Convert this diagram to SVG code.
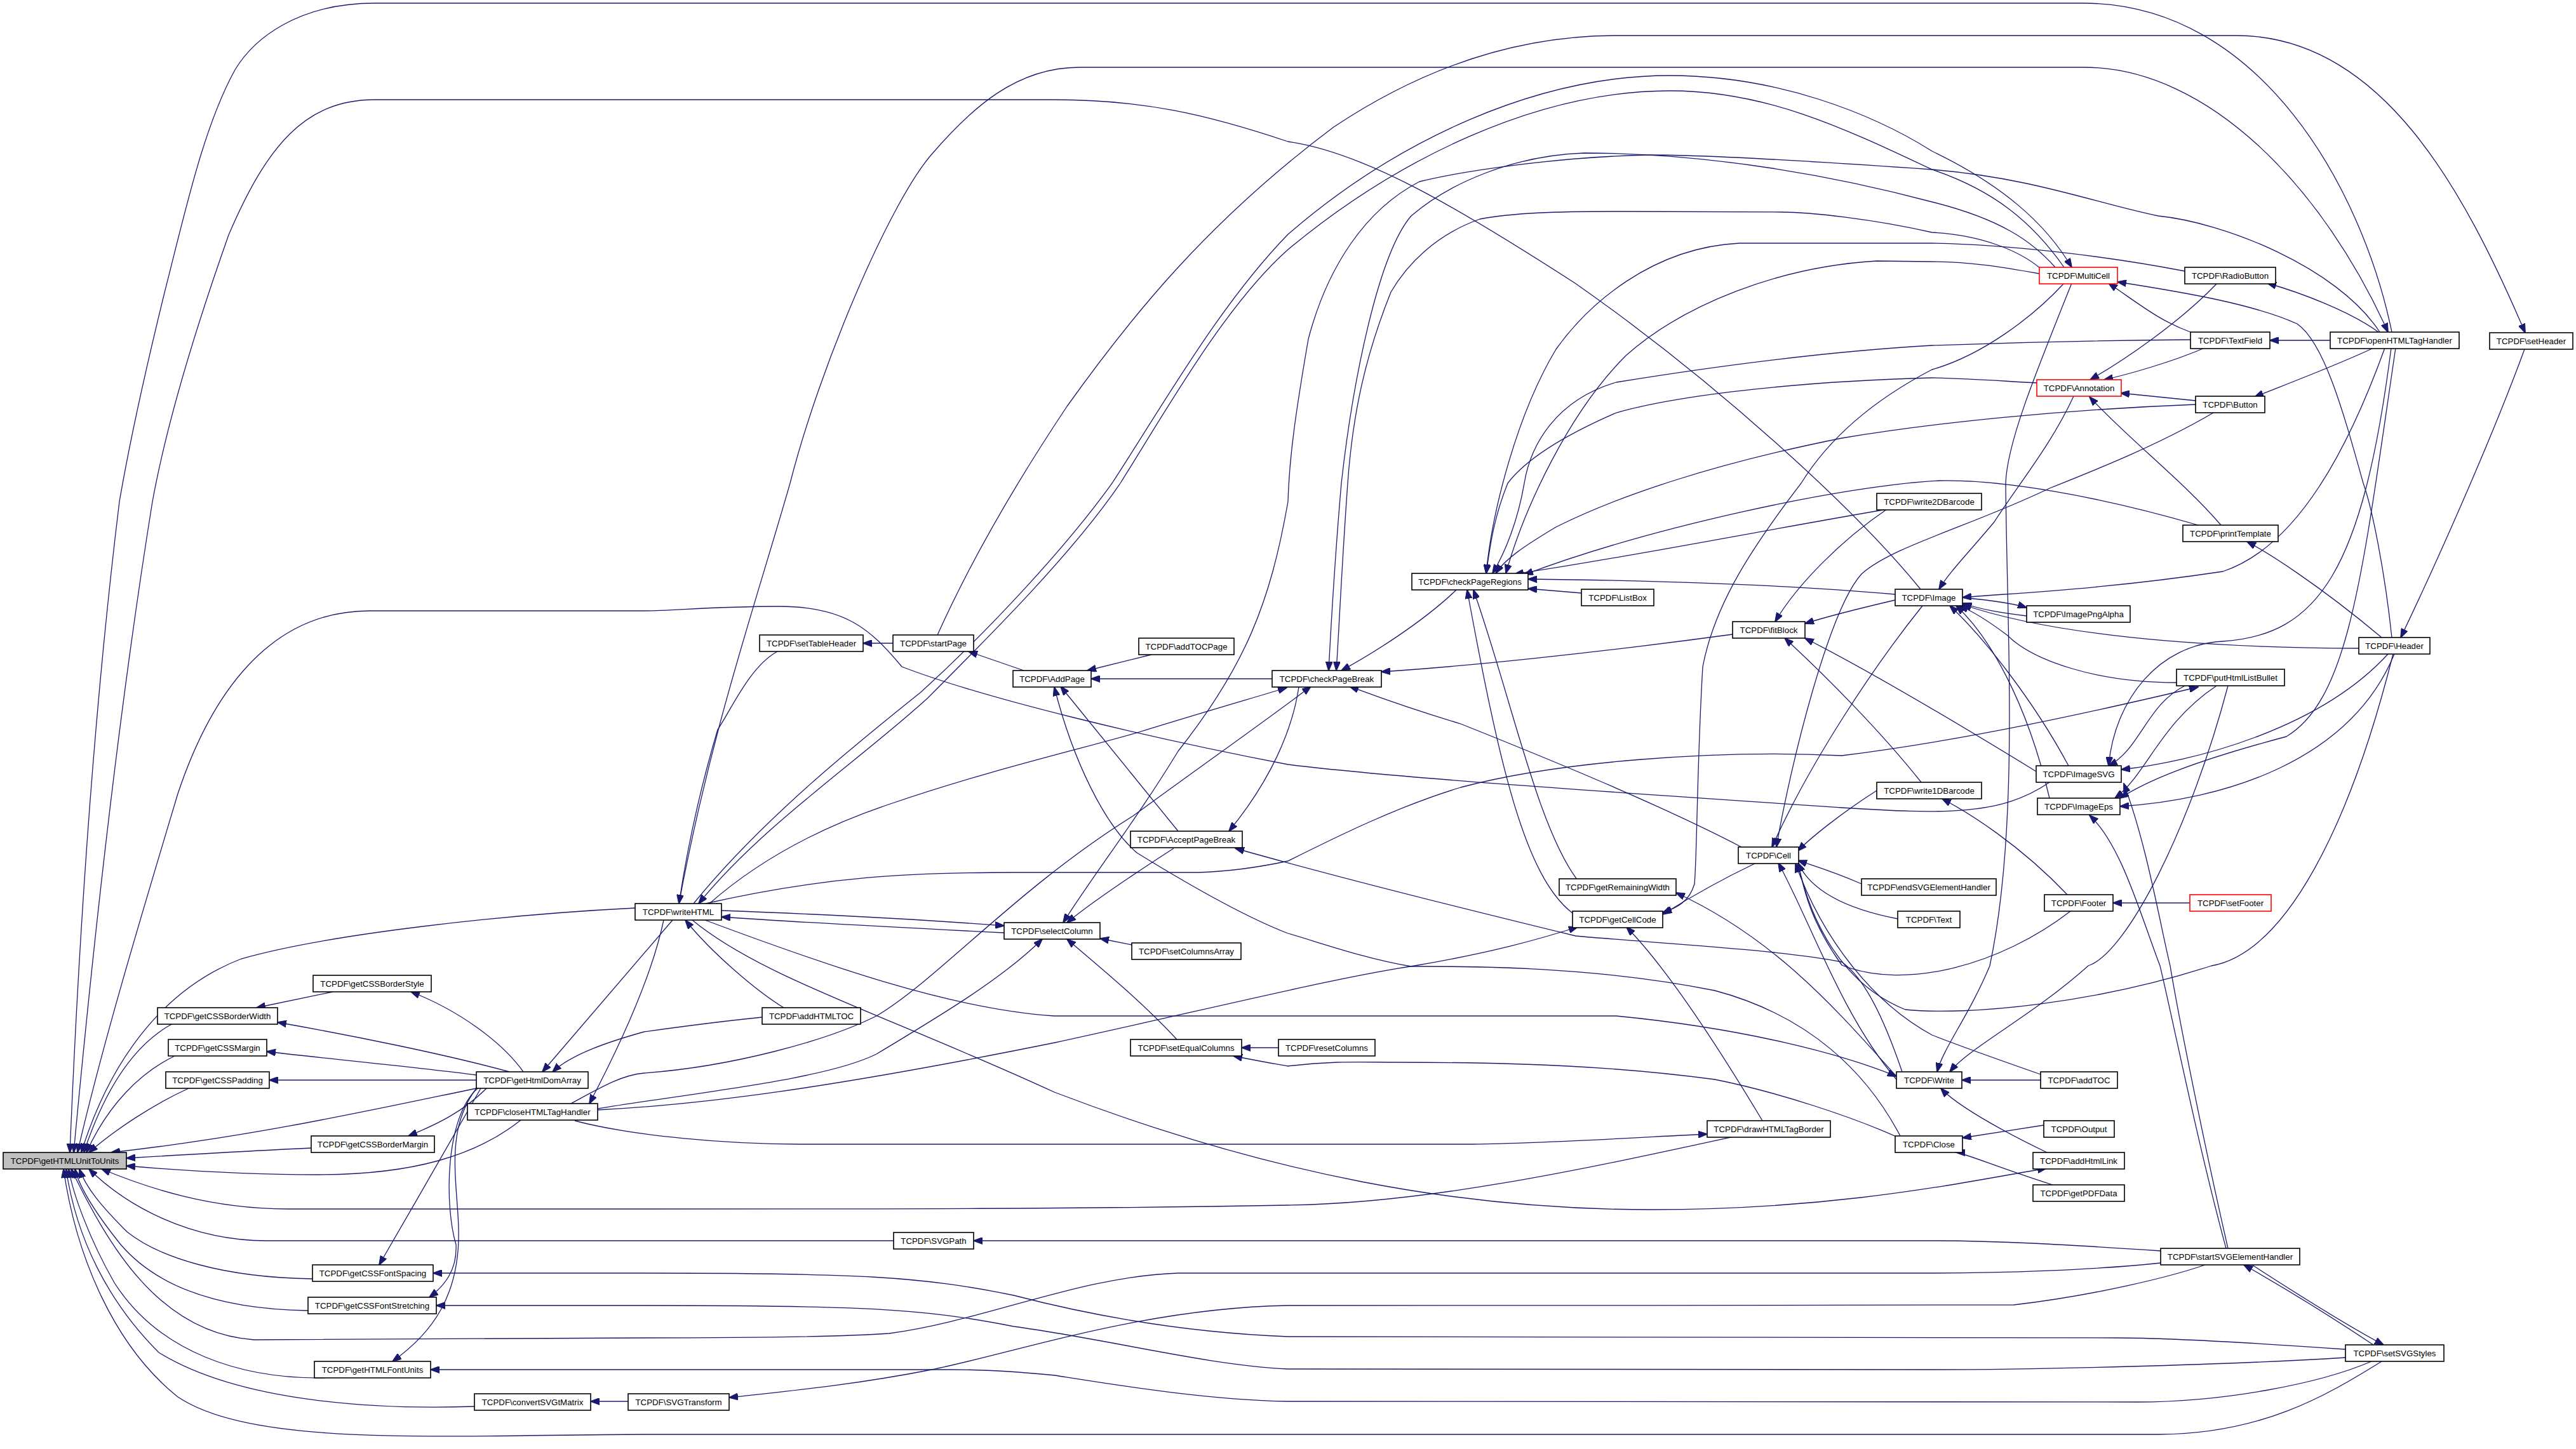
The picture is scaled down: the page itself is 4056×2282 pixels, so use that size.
<svg xmlns="http://www.w3.org/2000/svg" width="4056" height="2282" viewBox="0 0 4056 2282">
<defs>
<marker id="ah" markerUnits="userSpaceOnUse" markerWidth="15" markerHeight="11" refX="14" refY="5.5" orient="auto">
<path d="M0,0 L15,5.5 L0,11 z" fill="#191970" stroke="#191970" stroke-width="1"/>
</marker>
<style>
.n rect{fill:#ffffff;stroke:#000000;stroke-width:1.6}
.n.r rect{stroke:#ff0000}
.n.g rect{fill:#bfbfbf}
.n text{font-family:"Liberation Sans",Arial,sans-serif;font-size:13.3px;fill:#000000;text-anchor:middle}
#edges path{fill:none;stroke:#191970;stroke-width:1.3;marker-end:url(#ah)}
</style>
</defs>
<rect width="4056" height="2282" fill="#ffffff"/>
<g id="edges">
<path d="M3766,523 C3720,300 3560,5 3280,5 L590,5 C470,5 400,60 370,110 C320,200 290,340 259,461 C220,620 200,720 188,790 C150,1100 125,1450 110,1815"/>
<path d="M3024,928 C2920,800 2700,600 2480,446 C2300,330 2150,240 2028,223 C1900,180 1800,157 1660,157 L590,157 C480,157 420,230 360,370 C300,540 260,680 240,790 C190,1100 150,1450 116,1815"/>
<path d="M3227,1232 C3150,1285 3060,1282 2900,1272 C2500,1245 2200,1225 2028,1204 C1800,1160 1550,1100 1420,1050 C1370,990 1330,955 1227,955 C1120,955 1060,962 1014,962 L582,962 C420,962 330,1100 280,1250 C220,1450 160,1650 122,1815"/>
<path d="M1000,1430 C800,1440 520,1470 380,1510 C250,1560 170,1680 128,1815"/>
<path d="M272,1612 C220,1640 170,1700 132,1815"/>
<path d="M275,1663 C220,1690 170,1740 136,1815"/>
<path d="M297,1714 C240,1740 180,1780 140,1815"/>
<path d="M750,1714 C600,1745 400,1790 175,1815"/>
<path d="M490,1808 C400,1812 300,1818 199,1824"/>
<path d="M820,1764 C750,1820 650,1850 500,1850 C380,1850 280,1843 199,1836"/>
<path d="M2730,1790 C2500,1840 2250,1895 2028,1898 C1700,1904 1400,1904 1014,1904 L453,1904 C330,1904 230,1870 160,1841"/>
<path d="M1407,1954 L420,1954 C300,1954 200,1900 140,1841"/>
<path d="M492,2014 C350,2012 250,1980 200,1940 C160,1900 135,1870 125,1841"/>
<path d="M485,2064 C350,2062 250,2030 190,1960 C150,1910 125,1870 118,1841"/>
<path d="M3402,1989 C3300,2000 3150,2005 3042,2005 L1855,2005 C1700,2010 1550,2080 1400,2100 C1300,2107 1100,2107 1014,2107 L400,2110 C250,2100 170,1960 112,1841"/>
<path d="M511,2170 C380,2172 250,2130 180,2020 C140,1950 115,1880 108,1841"/>
<path d="M747,2215 C600,2220 380,2210 250,2130 C170,2050 120,1950 104,1841"/>
<path d="M3750,2144 C3660,2200 3560,2258 3400,2259 L1014,2259 C700,2260 400,2280 280,2200 C180,2120 120,1980 100,1841"/>
<path d="M824,1688 C790,1640 720,1590 647,1562"/>
<path d="M802,1688 C700,1660 550,1630 437,1610"/>
<path d="M750,1693 C650,1680 520,1668 420,1656"/>
<path d="M750,1701 L424,1701"/>
<path d="M766,1714 C730,1750 690,1770 643,1789"/>
<path d="M757,1714 C720,1780 650,1900 597,1992"/>
<path d="M752,1714 C700,1760 700,1900 718,1960 C720,2000 700,2025 676,2043"/>
<path d="M750,1714 C700,1780 720,1860 722,1934 C725,2040 680,2100 618,2144"/>
<path d="M524,1562 L404,1587"/>
<path d="M1059,1449 L854,1688"/>
<path d="M1045,1449 C1030,1520 990,1620 928,1738"/>
<path d="M1200,1602 C1120,1610 1050,1620 1014,1625 C960,1640 900,1660 870,1688"/>
<path d="M1234,1587 C1190,1560 1120,1500 1079,1449"/>
<path d="M899,1738 C950,1710 980,1693 1014,1690 C1150,1680 1300,1640 1380,1600 C1480,1540 1600,1400 1784,1285 C1900,1200 2000,1130 2064,1081"/>
<path d="M941,1746 C1100,1720 1300,1700 1380,1660 C1480,1600 1580,1540 1641,1479"/>
<path d="M941,1748 C1100,1740 1300,1715 1661,1642 C1900,1590 2100,1540 2227,1521 C2350,1500 2420,1480 2484,1460"/>
<path d="M905,1765 C1000,1790 1150,1802 1260,1802 L2319,1802 C2450,1800 2600,1790 2688,1786"/>
<path d="M989,2207 L930,2207"/>
<path d="M3472,1992 C3420,2010 3300,2040 3171,2055 C3000,2056 2200,2056 2028,2056 C1800,2060 1600,2130 1467,2157 C1350,2180 1250,2190 1148,2201"/>
<path d="M3402,1970 C3250,1960 3150,1954 3042,1954 L1533,1954"/>
<path d="M3693,2125 C3550,2115 3400,2107 3333,2107 L2028,2105 C1900,2100 1750,2080 1596,2040 C1450,2010 1350,2005 1014,2005 L682,2005"/>
<path d="M3693,2138 C3500,2150 3200,2157 3042,2157 L2028,2156 C1900,2150 1750,2110 1596,2089 C1450,2060 1350,2056 1014,2056 L687,2056"/>
<path d="M3734,2144 C3650,2180 3500,2208 3365,2208 L2028,2207 C1900,2205 1750,2180 1661,2166 C1600,2160 1550,2157 1499,2157 L678,2157"/>
<path d="M3737,2118 C3680,2080 3600,2030 3533,1992"/>
<path d="M3546,1992 C3620,2040 3700,2090 3753,2118"/>
<path d="M1224,1026 C1180,1050 1150,1120 1130,1149 C1100,1250 1080,1350 1069,1423"/>
<path d="M1406,1013 L1359,1013"/>
<path d="M1612,1056 L1525,1026"/>
<path d="M1813,1031 L1712,1056"/>
<path d="M2003,1069 L1718,1069"/>
<path d="M1855,1309 L1670,1081"/>
<path d="M2992,1789 C2940,1690 2850,1600 2700,1560 C2500,1520 2300,1522 2222,1522 C2150,1510 2080,1485 2028,1470 C1950,1440 1850,1380 1790,1343 C1740,1300 1690,1200 1660,1082"/>
<path d="M1136,1434 C1300,1440 1450,1448 1581,1458"/>
<path d="M1581,1469 C1400,1460 1250,1452 1136,1444"/>
<path d="M1782,1488 L1732,1478"/>
<path d="M1848,1336 C1780,1380 1720,1420 1680,1453"/>
<path d="M3747,523 C3680,420 3500,350 3398,340 C3300,320 3200,280 3042,267 C2900,257 2700,244 2597,244 C2450,247 2300,270 2235,286 C2150,330 2090,420 2060,534 C2040,650 2030,720 2028,790 C2000,950 1960,1050 1855,1183 C1790,1290 1720,1380 1674,1453"/>
<path d="M3236,421 C3200,380 3150,345 3042,318 C2900,280 2700,241 2494,241 C2380,245 2280,290 2222,340 C2170,400 2130,600 2112,761 C2100,900 2095,1000 2092,1056"/>
<path d="M3213,423 C3180,395 3120,370 3042,366 C2950,345 2850,334 2804,334 L2545,333 C2450,333 2384,335 2330,345 C2260,370 2215,417 2190,460 C2150,560 2130,650 2122,761 C2112,900 2108,1000 2104,1056"/>
<path d="M1117,1423 C1200,1350 1300,1300 1402,1266 C1550,1215 1700,1180 1790,1154 C1900,1120 1970,1100 2026,1083"/>
<path d="M2045,1082 C2035,1150 2000,1230 1935,1309"/>
<path d="M2995,1688 C2965,1600 2935,1540 2900,1515 C2800,1495 2600,1485 2481,1474 C2300,1430 2100,1380 1945,1336"/>
<path d="M3249,447 C3200,500 3120,560 3042,582 C2950,630 2880,690 2836,761 C2760,860 2700,950 2681,1050 C2672,1200 2672,1350 2668,1392 C2660,1420 2640,1430 2618,1437"/>
<path d="M3213,1692 C3150,1670 3080,1645 3042,1630 C2950,1580 2870,1480 2827,1360"/>
<path d="M1853,1637 C1800,1580 1740,1530 1680,1479"/>
<path d="M2013,1650 L1955,1650"/>
<path d="M2990,1792 C2920,1760 2800,1720 2700,1700 C2550,1680 2400,1673 2200,1673 C2150,1673 2100,1670 2028,1679 C2000,1674 1970,1669 1942,1663"/>
<path d="M1476,1000 C1530,880 1600,760 1680,640 C1780,500 1900,350 2100,200 C2250,100 2400,56 2545,56 L3521,56 C3750,56 3880,300 3976,524"/>
<path d="M1069,1423 C1120,1150 1190,950 1244,761 C1290,580 1400,320 1467,243 C1530,170 1600,106 1700,106 L3281,106 C3480,106 3660,300 3760,523"/>
<path d="M1092,1423 C1200,1290 1350,1170 1450,1090 C1560,990 1680,860 1751,761 C1830,640 1920,480 2028,369 C2200,220 2420,119 2629,119 C2800,119 2950,180 3042,238 C3150,290 3220,350 3262,421"/>
<path d="M3250,421 C3200,350 3140,300 3042,267 C2900,200 2780,143 2629,143 C2420,143 2200,250 2028,393 C1930,480 1840,640 1764,761 C1690,870 1560,1000 1460,1100 C1350,1200 1200,1300 1100,1423"/>
<path d="M3449,523 C3400,505 3370,480 3320,446"/>
<path d="M3766,1004 C3755,900 3735,800 3721,761 C3690,650 3660,540 3617,510 C3550,480 3450,462 3334,444"/>
<path d="M3975,550 C3920,700 3830,900 3780,1004"/>
<path d="M3669,536 L3574,536"/>
<path d="M3745,523 C3700,490 3620,460 3570,446"/>
<path d="M3737,548 C3680,575 3600,605 3550,625"/>
<path d="M3491,446 C3430,510 3340,570 3291,598"/>
<path d="M3471,548 C3420,570 3350,590 3313,598"/>
<path d="M3457,631 L3339,619"/>
<path d="M3440,427 C3300,400 3150,385 3042,383 L2739,383 C2600,390 2500,480 2450,550 C2390,650 2350,800 2340,903"/>
<path d="M3211,431 C3150,420 3100,412 3038,412 L2955,411 C2800,420 2650,480 2560,560 C2470,650 2400,800 2371,903"/>
<path d="M3449,535 C3300,536 3150,540 3042,544 C2850,555 2650,585 2545,602 C2450,630 2410,700 2400,761 C2390,820 2370,870 2350,903"/>
<path d="M3207,603 C3150,600 3100,596 3042,595 C2850,600 2650,620 2545,650 C2430,700 2390,740 2374,761 C2350,820 2345,870 2340,903"/>
<path d="M3457,637 C3250,645 3050,665 2900,690 C2700,730 2550,780 2450,830 C2400,860 2370,880 2355,903"/>
<path d="M3461,827 C3300,780 3150,755 3053,757 C2900,765 2600,830 2400,905"/>
<path d="M2971,802 C2750,840 2550,880 2385,904"/>
<path d="M2490,934 L2406,927"/>
<path d="M2984,936 C2800,920 2600,914 2406,912"/>
<path d="M2293,929 C2240,980 2160,1030 2112,1056"/>
<path d="M2728,999 C2500,1030 2300,1050 2175,1058"/>
<path d="M2742,1334 C2600,1260 2400,1180 2300,1140 C2200,1110 2150,1090 2125,1081"/>
<path d="M2765,1359 C2700,1390 2650,1420 2618,1440"/>
<path d="M2775,1765 C2700,1640 2620,1520 2561,1460"/>
<path d="M2483,1385 C2420,1300 2380,1100 2320,929"/>
<path d="M2476,1438 C2400,1380 2360,1200 2310,929"/>
<path d="M2971,802 C2900,850 2830,920 2795,979"/>
<path d="M2984,945 C2920,960 2880,970 2842,982"/>
<path d="M3206,1215 C3100,1150 2950,1060 2842,1005"/>
<path d="M3025,1232 C2960,1150 2870,1060 2810,1005"/>
<path d="M3090,941 C3130,945 3170,950 3191,957"/>
<path d="M3191,970 C3150,965 3120,960 3090,950"/>
<path d="M3257,1206 C3200,1100 3120,1000 3070,954"/>
<path d="M3227,1257 C3190,1100 3130,1000 3080,954"/>
<path d="M3714,1021 C3400,1020 3200,990 3090,952"/>
<path d="M3427,1075 C3300,1075 3200,1040 3160,1000 C3120,970 3100,960 3085,954"/>
<path d="M3755,548 C3700,700 3620,860 3500,900 C3300,930 3150,935 3090,941"/>
<path d="M3750,1004 C3650,920 3570,870 3538,853"/>
<path d="M3760,1030 C3650,1150 3450,1200 3340,1212"/>
<path d="M3770,1030 C3700,1200 3500,1260 3338,1270"/>
<path d="M3765,548 C3720,900 3650,1000 3500,1010 C3400,1015 3330,1100 3320,1206"/>
<path d="M3772,548 C3720,900 3700,1100 3600,1160 C3450,1200 3380,1230 3338,1257"/>
<path d="M3440,1080 C3380,1110 3370,1180 3320,1206"/>
<path d="M3490,1080 C3400,1140 3380,1220 3330,1257"/>
<path d="M1111,1423 C1300,1380 1434,1374 1600,1374 L1887,1374 C1950,1372 2000,1362 2028,1356 C2100,1320 2200,1270 2300,1240 C2450,1200 2700,1180 2900,1190 C3100,1165 3300,1120 3461,1082"/>
<path d="M3508,1080 C3450,1300 3350,1500 3288,1521 C3200,1600 3100,1650 3070,1688"/>
<path d="M3262,446 C3200,600 3160,700 3158,761 C3160,1000 3180,1300 3133,1521 C3100,1600 3060,1650 3050,1688"/>
<path d="M3213,1701 L3089,1701"/>
<path d="M3223,1815 C3150,1780 3080,1740 3056,1714"/>
<path d="M1110,1449 C1300,1520 1500,1590 1660,1600 L2545,1600 C2750,1620 2900,1660 2986,1695"/>
<path d="M1090,1449 C1200,1540 1400,1600 1660,1720 C2000,1850 2300,1905 2600,1905 C2900,1905 3100,1860 3222,1840"/>
<path d="M2986,1700 C2900,1600 2850,1450 2800,1359"/>
<path d="M2986,1695 C2900,1600 2800,1480 2639,1406"/>
<path d="M2988,1447 C2900,1430 2850,1400 2831,1359"/>
<path d="M2931,1392 C2880,1370 2850,1362 2831,1355"/>
<path d="M2955,1245 C2900,1280 2850,1320 2831,1340"/>
<path d="M3255,1409 C3180,1330 3100,1280 3058,1258"/>
<path d="M3260,1435 C3150,1520 3000,1560 2900,1520 C2850,1450 2840,1400 2831,1359"/>
<path d="M3448,1422 L3327,1422"/>
<path d="M3218,1772 L3090,1792"/>
<path d="M3232,1866 C3150,1840 3090,1815 3080,1815"/>
<path d="M3768,1030 C3700,1300 3600,1500 3482,1521 C3300,1580 3100,1600 3000,1590 C2900,1550 2850,1450 2831,1359"/>
<path d="M3265,624 C3230,700 3180,760 3140,822 C3100,870 3070,900 3053,928"/>
<path d="M3497,827 C3440,760 3350,690 3290,625"/>
<path d="M3485,650 C3400,700 3300,740 3227,769 C3100,830 2980,860 2931,904 C2880,960 2820,1200 2797,1334"/>
<path d="M3027,954 C2950,1050 2850,1200 2790,1334"/>
<path d="M3508,1966 C3470,1800 3430,1600 3417,1521 C3400,1450 3380,1330 3344,1234"/>
<path d="M3505,1966 C3460,1800 3420,1600 3401,1521 C3370,1440 3340,1330 3290,1284"/>
</g>
<g id="n_GU" class="n g"><rect x="5" y="1815" width="194" height="26"/><text x="102" y="1832.5">TCPDF\getHTMLUnitToUnits</text></g>
<g id="n_cssBorderStyle" class="n"><rect x="493" y="1536" width="186" height="26"/><text x="586" y="1553.5">TCPDF\getCSSBorderStyle</text></g>
<g id="n_cssBorderWidth" class="n"><rect x="248" y="1587" width="189" height="26"/><text x="342.5" y="1604.5">TCPDF\getCSSBorderWidth</text></g>
<g id="n_cssMargin" class="n"><rect x="265" y="1637" width="155" height="26"/><text x="342.5" y="1654.5">TCPDF\getCSSMargin</text></g>
<g id="n_cssPadding" class="n"><rect x="261" y="1688" width="163" height="26"/><text x="342.5" y="1705.5">TCPDF\getCSSPadding</text></g>
<g id="n_htmlDom" class="n"><rect x="750" y="1688" width="176" height="26"/><text x="838" y="1705.5">TCPDF\getHtmlDomArray</text></g>
<g id="n_closeHTML" class="n"><rect x="736" y="1738" width="205" height="26"/><text x="838.5" y="1755.5">TCPDF\closeHTMLTagHandler</text></g>
<g id="n_cssBorderMargin" class="n"><rect x="490" y="1789" width="194" height="26"/><text x="587" y="1806.5">TCPDF\getCSSBorderMargin</text></g>
<g id="n_cssFontSpacing" class="n"><rect x="492" y="1992" width="190" height="26"/><text x="587" y="2009.5">TCPDF\getCSSFontSpacing</text></g>
<g id="n_cssFontStretching" class="n"><rect x="485" y="2043" width="202" height="26"/><text x="586" y="2060.5">TCPDF\getCSSFontStretching</text></g>
<g id="n_htmlFontUnits" class="n"><rect x="495" y="2144" width="183" height="26"/><text x="586.5" y="2161.5">TCPDF\getHTMLFontUnits</text></g>
<g id="n_convSVGtMatrix" class="n"><rect x="747" y="2195" width="183" height="26"/><text x="838.5" y="2212.5">TCPDF\convertSVGtMatrix</text></g>
<g id="n_writeHTML" class="n"><rect x="1000" y="1423" width="136" height="26"/><text x="1068" y="1440.5">TCPDF\writeHTML</text></g>
<g id="n_setTableHeader" class="n"><rect x="1196" y="1000" width="163" height="26"/><text x="1277.5" y="1017.5">TCPDF\setTableHeader</text></g>
<g id="n_startPage" class="n"><rect x="1406" y="1000" width="127" height="26"/><text x="1469.5" y="1017.5">TCPDF\startPage</text></g>
<g id="n_addTOCPage" class="n"><rect x="1793" y="1005" width="150" height="26"/><text x="1868" y="1022.5">TCPDF\addTOCPage</text></g>
<g id="n_AddPage" class="n"><rect x="1595" y="1056" width="123" height="26"/><text x="1656.5" y="1073.5">TCPDF\AddPage</text></g>
<g id="n_AcceptPageBreak" class="n"><rect x="1780" y="1309" width="176" height="26"/><text x="1868" y="1326.5">TCPDF\AcceptPageBreak</text></g>
<g id="n_selectColumn" class="n"><rect x="1581" y="1453" width="151" height="26"/><text x="1656.5" y="1470.5">TCPDF\selectColumn</text></g>
<g id="n_setColumnsArray" class="n"><rect x="1782" y="1485" width="172" height="26"/><text x="1868" y="1502.5">TCPDF\setColumnsArray</text></g>
<g id="n_addHTMLTOC" class="n"><rect x="1200" y="1587" width="155" height="26"/><text x="1277.5" y="1604.5">TCPDF\addHTMLTOC</text></g>
<g id="n_setEqualColumns" class="n"><rect x="1780" y="1637" width="175" height="26"/><text x="1867.5" y="1654.5">TCPDF\setEqualColumns</text></g>
<g id="n_resetColumns" class="n"><rect x="2013" y="1637" width="152" height="26"/><text x="2089" y="1654.5">TCPDF\resetColumns</text></g>
<g id="n_SVGPath" class="n"><rect x="1407" y="1941" width="126" height="26"/><text x="1470" y="1958.5">TCPDF\SVGPath</text></g>
<g id="n_SVGTransform" class="n"><rect x="989" y="2195" width="159" height="26"/><text x="1068.5" y="2212.5">TCPDF\SVGTransform</text></g>
<g id="n_checkPageBreak" class="n"><rect x="2003" y="1056" width="172" height="26"/><text x="2089" y="1073.5">TCPDF\checkPageBreak</text></g>
<g id="n_checkPageRegions" class="n"><rect x="2223" y="903" width="183" height="26"/><text x="2314.5" y="920.5">TCPDF\checkPageRegions</text></g>
<g id="n_ListBox" class="n"><rect x="2490" y="928" width="114" height="26"/><text x="2547" y="945.5">TCPDF\ListBox</text></g>
<g id="n_fitBlock" class="n"><rect x="2728" y="979" width="114" height="26"/><text x="2785" y="996.5">TCPDF\fitBlock</text></g>
<g id="n_Cell" class="n"><rect x="2737" y="1334" width="95" height="26"/><text x="2784.5" y="1351.5">TCPDF\Cell</text></g>
<g id="n_getRemainingWidth" class="n"><rect x="2455" y="1384" width="184" height="26"/><text x="2547" y="1401.5">TCPDF\getRemainingWidth</text></g>
<g id="n_getCellCode" class="n"><rect x="2476" y="1435" width="142" height="26"/><text x="2547" y="1452.5">TCPDF\getCellCode</text></g>
<g id="n_drawHTMLTagBorder" class="n"><rect x="2688" y="1765" width="194" height="26"/><text x="2785" y="1782.5">TCPDF\drawHTMLTagBorder</text></g>
<g id="n_write2DBarcode" class="n"><rect x="2955" y="777" width="165" height="26"/><text x="3037.5" y="794.5">TCPDF\write2DBarcode</text></g>
<g id="n_Image" class="n"><rect x="2984" y="928" width="106" height="26"/><text x="3037" y="945.5">TCPDF\Image</text></g>
<g id="n_write1DBarcode" class="n"><rect x="2955" y="1232" width="165" height="26"/><text x="3037.5" y="1249.5">TCPDF\write1DBarcode</text></g>
<g id="n_endSVGElementHandler" class="n"><rect x="2931" y="1384" width="212" height="26"/><text x="3037" y="1401.5">TCPDF\endSVGElementHandler</text></g>
<g id="n_Text" class="n"><rect x="2988" y="1435" width="98" height="26"/><text x="3037" y="1452.5">TCPDF\Text</text></g>
<g id="n_Write" class="n"><rect x="2986" y="1688" width="103" height="26"/><text x="3037.5" y="1705.5">TCPDF\Write</text></g>
<g id="n_Close" class="n"><rect x="2984" y="1789" width="106" height="26"/><text x="3037" y="1806.5">TCPDF\Close</text></g>
<g id="n_MultiCell" class="n r"><rect x="3211" y="421" width="123" height="26"/><text x="3272.5" y="438.5">TCPDF\MultiCell</text></g>
<g id="n_RadioButton" class="n"><rect x="3440" y="421" width="143" height="26"/><text x="3511.5" y="438.5">TCPDF\RadioButton</text></g>
<g id="n_TextField" class="n"><rect x="3449" y="523" width="125" height="26"/><text x="3511.5" y="540.5">TCPDF\TextField</text></g>
<g id="n_openHTMLTagHandler" class="n"><rect x="3669" y="523" width="203" height="26"/><text x="3770.5" y="540.5">TCPDF\openHTMLTagHandler</text></g>
<g id="n_setHeader" class="n"><rect x="3920" y="524" width="131" height="26"/><text x="3985.5" y="541.5">TCPDF\setHeader</text></g>
<g id="n_Annotation" class="n r"><rect x="3207" y="598" width="133" height="26"/><text x="3273.5" y="615.5">TCPDF\Annotation</text></g>
<g id="n_Button" class="n"><rect x="3457" y="624" width="109" height="26"/><text x="3511.5" y="641.5">TCPDF\Button</text></g>
<g id="n_printTemplate" class="n"><rect x="3437" y="827" width="150" height="26"/><text x="3512" y="844.5">TCPDF\printTemplate</text></g>
<g id="n_ImagePngAlpha" class="n"><rect x="3191" y="954" width="163" height="26"/><text x="3272.5" y="971.5">TCPDF\ImagePngAlpha</text></g>
<g id="n_Header" class="n"><rect x="3714" y="1004" width="112" height="26"/><text x="3770" y="1021.5">TCPDF\Header</text></g>
<g id="n_putHtmlListBullet" class="n"><rect x="3427" y="1054" width="170" height="26"/><text x="3512" y="1071.5">TCPDF\putHtmlListBullet</text></g>
<g id="n_ImageSVG" class="n"><rect x="3206" y="1206" width="134" height="26"/><text x="3273" y="1223.5">TCPDF\ImageSVG</text></g>
<g id="n_ImageEps" class="n"><rect x="3208" y="1257" width="130" height="26"/><text x="3273" y="1274.5">TCPDF\ImageEps</text></g>
<g id="n_Footer" class="n"><rect x="3219" y="1409" width="108" height="26"/><text x="3273" y="1426.5">TCPDF\Footer</text></g>
<g id="n_setFooter" class="n r"><rect x="3448" y="1409" width="128" height="26"/><text x="3512" y="1426.5">TCPDF\setFooter</text></g>
<g id="n_addTOC" class="n"><rect x="3213" y="1688" width="121" height="26"/><text x="3273.5" y="1705.5">TCPDF\addTOC</text></g>
<g id="n_Output" class="n"><rect x="3218" y="1765" width="111" height="26"/><text x="3273.5" y="1782.5">TCPDF\Output</text></g>
<g id="n_addHtmlLink" class="n"><rect x="3201" y="1815" width="144" height="26"/><text x="3273" y="1832.5">TCPDF\addHtmlLink</text></g>
<g id="n_getPDFData" class="n"><rect x="3201" y="1866" width="144" height="26"/><text x="3273" y="1883.5">TCPDF\getPDFData</text></g>
<g id="n_startSVGElementHandler" class="n"><rect x="3402" y="1966" width="219" height="26"/><text x="3511.5" y="1983.5">TCPDF\startSVGElementHandler</text></g>
<g id="n_setSVGStyles" class="n"><rect x="3693" y="2118" width="155" height="26"/><text x="3770.5" y="2135.5">TCPDF\setSVGStyles</text></g>
</svg>
